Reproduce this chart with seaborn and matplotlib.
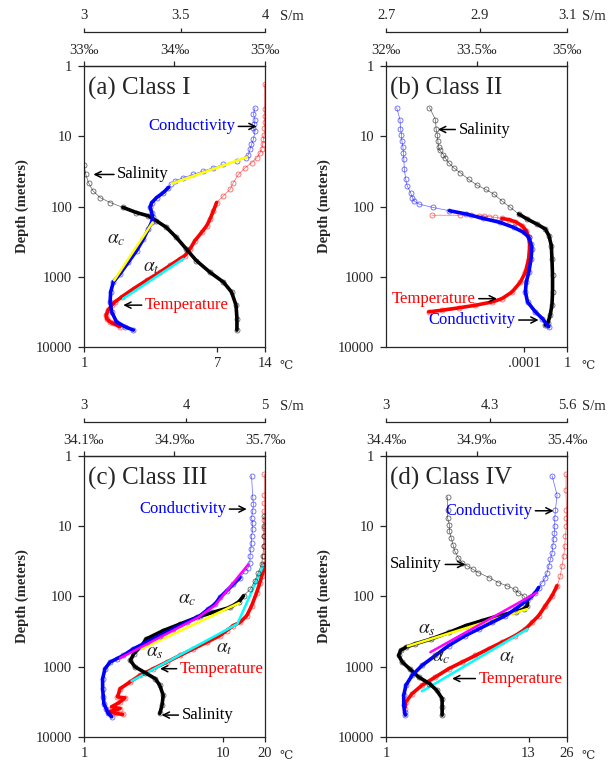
import numpy as np
import matplotlib
matplotlib.use("Agg")
import matplotlib.pyplot as plt
from matplotlib.ticker import NullLocator, FixedLocator
import seaborn as sns

# ---------------- data ----------------
# depth in metres, salinity in per mil, conductivity in S/m, temperature in deg C

# (a) Class I
A_SAL_DEPTH = [26, 35, 46, 60, 75, 88, 103, 122, 136, 160, 198, 275, 402, 587, 859, 1190, 1648, 2545, 3929, 5750]
A_SAL = [33.0, 33.02, 33.05, 33.10, 33.18, 33.29, 33.43, 33.58, 33.71, 33.80, 33.91, 34.02, 34.13, 34.24, 34.39,
         34.54, 34.63, 34.68, 34.69, 34.69]
A_CON_DEPTH = [3.9, 4.9, 5.8, 6.8, 7.6, 8.5, 11.1, 13.1, 15.4, 18.2, 20.3, 22.6, 25.2, 28.1, 31.3, 34.9, 38.9, 43.4,
               48.3, 53.8, 63.4, 74.6, 88, 103, 122, 143, 168, 209, 290, 424, 620, 907, 1190, 1648, 2282, 3162, 4383,
               5155, 5750]
A_CON = [3.937, 3.927, 3.937, 3.933, 3.927, 3.937, 3.927, 3.915, 3.906, 3.896, 3.881, 3.823, 3.744, 3.685, 3.626,
         3.569, 3.513, 3.467, 3.443, 3.431, 3.403, 3.367, 3.341, 3.332, 3.341, 3.346, 3.341, 3.323, 3.297, 3.262,
         3.219, 3.177, 3.143, 3.130, 3.127, 3.135, 3.159, 3.203, 3.245]
A_TEMP_DEPTH = [1.8, 4.1, 5.2, 6.3, 7.6, 9.5, 11.1, 13.1, 15.4, 17.2, 20.3, 23.9, 28.1, 34.9, 45.7, 56.9, 70.6, 87.8,
                115, 151, 188, 233, 306, 402, 499, 556, 691, 859, 1127, 1479, 1940, 2282, 2545, 2995, 3525, 3929,
                4383, 4625, 5155]
A_TEMP = [13.9, 13.9, 13.9, 13.9, 13.85, 13.85, 13.67, 13.53, 13.35, 13.0, 12.4, 11.5, 10.47, 9.50, 8.82, 8.41, 7.63,
          6.92, 6.60, 6.28, 5.98, 5.56, 5.04, 4.69, 4.36, 4.05, 3.50, 3.03, 2.49, 2.06, 1.73, 1.57, 1.50, 1.42, 1.38,
          1.39, 1.46, 1.53, 1.69]
A_FIT_C1_DEPTH, A_FIT_C1 = [19.8, 47.3], [3.886, 3.449]
A_FIT_C2_DEPTH, A_FIT_C2 = [168, 1127], [3.346, 3.147]
A_FIT_T_DEPTH, A_FIT_T = [556, 2048], [4.26, 1.77]

# (b) Class II  (temperature axis is logarithmic, values kept as log10)
B_SAL_DEPTH = [3.9, 5.8, 7.8, 9.5, 11.8, 14.2, 15.8, 18.2, 20.3, 23.9, 28.1, 33.0, 41.1, 49.9, 57, 66.9, 83.1, 103,
               128, 151, 178, 209, 260, 360, 556, 958, 1648, 2545, 3525, 4625, 4883]
B_SAL = [32.72, 32.82, 32.83, 32.85, 32.86, 32.87, 32.89, 32.95, 32.98, 33.04, 33.12, 33.23, 33.37, 33.51, 33.65,
         33.79, 33.92, 34.06, 34.20, 34.34, 34.50, 34.64, 34.70, 34.74, 34.75, 34.76, 34.76, 34.75, 34.72, 34.68,
         34.64]
B_CON_DEPTH = [3.9, 5.8, 7.8, 9.5, 11.8, 14.2, 17.2, 21.4, 29.6, 41.1, 51, 63.4, 74.6, 83, 92.7, 103, 115, 128, 148,
               168, 198, 233, 275, 341, 402, 556, 859, 1190, 1648, 2282, 3162, 3929, 4883, 5155]
B_CON = [2.722, 2.729, 2.730, 2.732, 2.733, 2.735, 2.736, 2.737, 2.738, 2.741, 2.744, 2.751, 2.755, 2.758, 2.769,
         2.798, 2.834, 2.871, 2.908, 2.945, 2.976, 2.999, 3.011, 3.016, 3.018, 3.016, 3.011, 3.005, 3.003, 3.008,
         3.026, 3.042, 3.054, 3.057]
B_TEMP_DEPTH = [133, 133, 133, 136, 136, 139, 143, 148, 154, 165, 188, 221, 275, 360, 556, 859, 1190, 1648, 2048,
                2282, 2545, 2774, 2995, 3162]
B_TEMP_LOG10 = [-12.56, -9.92, -8.91, -8.22, -7.75, -7.29, -6.67, -6.05, -5.42, -4.80, -4.19, -3.79, -3.57, -3.47,
                -3.57, -3.87, -4.34, -5.12, -6.05, -6.97, -8.52, -10.09, -11.64, -12.87]

# (c) Class III
C_SAL_DEPTH = [7.2, 10, 13.9, 19.2, 26.6, 34.9, 45.7, 60, 78.7, 97.9, 119, 143, 168, 198, 246, 306, 402, 499, 655,
               813, 1000, 1216, 1479, 1836, 2545, 3525, 4625]
C_SAL = [35.69, 35.69, 35.69, 35.69, 35.68, 35.67, 35.64, 35.61, 35.57, 35.51, 35.47, 35.39, 35.24, 35.10, 34.95,
         34.80, 34.65, 34.61, 34.54, 34.51, 34.55, 34.64, 34.73, 34.77, 34.80, 34.79, 34.77]
C_CON_DEPTH = [1.9, 3.8, 4.9, 6.1, 7.6, 9.0, 11.1, 13.9, 17.2, 21.4, 26.6, 33.0, 38.9, 43.4, 53.8, 66.9, 83.1, 103,
               128, 151, 188, 233, 290, 360, 448, 556, 691, 771, 859, 1067, 1479, 2048, 2686, 3340, 3929, 4625, 5155]
C_CON = [4.814, 4.829, 4.839, 4.829, 4.814, 4.829, 4.829, 4.814, 4.814, 4.802, 4.792, 4.792, 4.770, 4.726, 4.660,
         4.572, 4.487, 4.403, 4.343, 4.261, 4.162, 4.008, 3.861, 3.718, 3.580, 3.449, 3.352, 3.289, 3.229, 3.183,
         3.162, 3.162, 3.168, 3.173, 3.193, 3.212, 3.244]
C_TEMP_DEPTH = [1.8, 3.6, 4.7, 6.1, 8.1, 10.6, 13.9, 19.2, 26.6, 34.9, 43.4, 51, 63.4, 87.8, 136, 188, 233, 260, 306,
                360, 448, 556, 691, 859, 1067, 1327, 1648, 2048, 2686, 2774, 3162, 3723, 3929, 4383, 4625, 4775]
C_TEMP = [19.8, 19.8, 19.8, 19.8, 19.8, 19.8, 19.8, 19.8, 19.8, 19.8, 19.47, 18.95, 18.39, 17.43, 16.02, 14.78,
          13.23, 11.84, 10.60, 9.49, 7.62, 6.11, 4.89, 3.93, 3.15, 2.52, 2.14, 1.82, 1.74, 1.97, 1.82, 1.58, 1.82,
          1.52, 1.71, 1.90]
C_FIT_C_DEPTH, C_FIT_C = [34.9, 133, 198, 754], [4.770, 4.343, 4.143, 3.321]
C_FIT_S_DEPTH, C_FIT_S = [124, 556], [35.47, 34.61]
C_FIT_T_DEPTH, C_FIT_T = [36, 246, 1596], [19.47, 12.65, 2.20]

# (d) Class IV
D_SAL_DEPTH = [3.8, 5.8, 7.6, 9.5, 11.8, 14.6, 18.2, 22.6, 28.1, 33.0, 36.8, 41.1, 45.7, 53.8, 63.4, 70.6, 78.7,
               87.8, 97.9, 115, 136, 151, 165, 188, 221, 260, 323, 402, 473, 527, 587, 691, 859, 1067, 1400, 1740,
               2162, 2838, 3723, 4883]
D_SAL = [34.74, 34.74, 34.74, 34.75, 34.75, 34.76, 34.77, 34.78, 34.80, 34.82, 34.85, 34.88, 34.91, 34.97, 35.02,
         35.07, 35.11, 35.13, 35.16, 35.18, 35.18, 35.16, 35.12, 35.02, 34.93, 34.84, 34.75, 34.65, 34.56, 34.51,
         34.48, 34.47, 34.49, 34.53, 34.58, 34.64, 34.68, 34.71, 34.71, 34.71]
D_CON_DEPTH = [1.9, 3.6, 5.8, 7.6, 10, 12.4, 15.4, 19.2, 23.9, 29.6, 36.8, 45.7, 53.8, 63.4, 74.6, 87.8, 103, 122,
               151, 188, 233, 290, 360, 499, 691, 958, 1327, 1836, 2545, 3525, 4383, 4883]
D_CON = [5.318, 5.411, 5.381, 5.368, 5.368, 5.361, 5.347, 5.331, 5.318, 5.288, 5.258, 5.229, 5.196, 5.138, 5.078,
         5.021, 4.934, 4.824, 4.688, 4.526, 4.325, 4.130, 3.943, 3.723, 3.557, 3.397, 3.282, 3.213, 3.189, 3.189,
         3.198, 3.207]
D_TEMP_DEPTH = [1.8, 3.0, 5.8, 7.6, 10, 13.9, 19.2, 26.6, 36.8, 51, 70.6, 97.9, 136, 188, 233, 290, 360, 448, 556,
                691, 859, 1067, 1400, 1836, 2410, 3162, 3929]
D_TEMP = [25.6, 25.5, 25.7, 25.7, 25.7, 25.25, 24.93, 24.51, 23.73, 23.04, 21.73, 19.84, 17.58, 15.58, 13.86, 12.29,
          10.27, 8.07, 6.34, 5.00, 3.93, 3.09, 2.43, 1.91, 1.60, 1.43, 1.40]
D_FIT_S_DEPTH, D_FIT_S = [151, 510], [35.18, 34.52]
D_FIT_C_DEPTH, D_FIT_C = [87.8, 620], [5.049, 3.496]
D_FIT_T_DEPTH, D_FIT_T = [290, 2233], [12.82, 1.91]

DEPTH_TICKS = [1, 10, 100, 1000, 10000]

# ---------------- styling ----------------
sns.set_style("ticks")
plt.rcParams["font.family"] = ["Liberation Serif", "DejaVu Serif", "DejaVu Sans"]
plt.rcParams["mathtext.fontset"] = "stix"
plt.rcParams["axes.linewidth"] = 0.9

RED, BLUE, BLACK = "#ff0000", "#0000ff", "black"
YELLOW, CYAN, MAGENTA = "#ffff00", "#00ffff", "#ff00ff"
TICK_FS = 10.5

# split = depth below which the sampled profile looks like a solid thick line
panels = [
    dict(rect=[0.1368, 0.5446, 0.2948, 0.3688], title="(a) Class I",
         t_lim=(1, 14), t_ticks=[1, 7, 14], t_labels=["1", "7", "14"],
         s_lim=(33, 35), s_ticks=[33, 34, 35], s_labels=["33‰", "34‰", "35‰"],
         c_lim=(3, 4), c_ticks=[3, 3.5, 4], c_labels=["3", "3.5", "4"],
         sal=(A_SAL, A_SAL_DEPTH, 120), con=(A_CON, A_CON_DEPTH, 60), temp=(A_TEMP, A_TEMP_DEPTH, 100),
         fits=[("c", A_FIT_C1, A_FIT_C1_DEPTH, YELLOW), ("c", A_FIT_C2, A_FIT_C2_DEPTH, YELLOW),
               ("t", A_FIT_T, A_FIT_T_DEPTH, CYAN)],
         notes=[("Conductivity", BLUE, 0.834, 0.954, 0.785, "right"),
                ("Salinity", BLACK, 0.184, 0.052, 0.614, "left"),
                ("Temperature", RED, 0.337, 0.217, 0.149, "left")],
         alphas=[(r"$\alpha_c$", 0.177, 0.384), (r"$\alpha_t$", 0.374, 0.284)]),
    dict(rect=[0.6287, 0.5446, 0.2948, 0.3688], title="(b) Class II",
         t_lim=(10 ** -16.84, 1), t_ticks=[1e-4, 1], t_labels=[".0001", "1"],
         s_lim=(32, 35), s_ticks=[32, 33.5, 35], s_labels=["32‰", "33.5‰", "35‰"],
         c_lim=(2.7, 3.1), c_ticks=[2.7, 2.9, 3.1], c_labels=["2.7", "2.9", "3.1"],
         sal=(B_SAL, B_SAL_DEPTH, 150), con=(B_CON, B_CON_DEPTH, 120),
         temp=(list(10 ** np.array(B_TEMP_LOG10)), B_TEMP_DEPTH, 150),
         fits=[],
         notes=[("Salinity", BLACK, 0.401, 0.287, 0.774, "left"),
                ("Temperature", RED, 0.494, 0.613, 0.172, "right"),
                ("Conductivity", BLUE, 0.715, 0.843, 0.096, "right")],
         alphas=[]),
    dict(rect=[0.1368, 0.0328, 0.2948, 0.3688], title="(c) Class III",
         t_lim=(1, 20), t_ticks=[1, 10, 20], t_labels=["1", "10", "20"],
         s_lim=(34.1, 35.7), s_ticks=[34.1, 34.9, 35.7], s_labels=["34.1‰", "34.9‰", "35.7‰"],
         c_lim=(3, 5), c_ticks=[3, 4, 5], c_labels=["3", "4", "5"],
         sal=(C_SAL, C_SAL_DEPTH, 100), con=(C_CON, C_CON_DEPTH, 60), temp=(C_TEMP, C_TEMP_DEPTH, 40),
         fits=[("c", C_FIT_C, C_FIT_C_DEPTH, MAGENTA), ("s", C_FIT_S, C_FIT_S_DEPTH, YELLOW),
               ("t", C_FIT_T, C_FIT_T_DEPTH, CYAN)],
         notes=[("Conductivity", BLUE, 0.785, 0.899, 0.811, "right"),
                ("Temperature", RED, 0.530, 0.420, 0.243, "left"),
                ("Salinity", BLACK, 0.540, 0.429, 0.078, "left")],
         alphas=[(r"$\alpha_c$", 0.571, 0.491), (r"$\alpha_s$", 0.392, 0.302), (r"$\alpha_t$", 0.773, 0.314)]),
    dict(rect=[0.6287, 0.0328, 0.2948, 0.3688], title="(d) Class IV",
         t_lim=(1, 26), t_ticks=[1, 13, 26], t_labels=["1", "13", "26"],
         s_lim=(34.4, 35.4), s_ticks=[34.4, 34.9, 35.4], s_labels=["34.4‰", "34.9‰", "35.4‰"],
         c_lim=(3, 5.6), c_ticks=[3, 4.3, 5.6], c_labels=["3", "4.3", "5.6"],
         sal=(D_SAL, D_SAL_DEPTH, 120), con=(D_CON, D_CON_DEPTH, 80), temp=(D_TEMP, D_TEMP_DEPTH, 90),
         fits=[("s", D_FIT_S, D_FIT_S_DEPTH, YELLOW), ("c", D_FIT_C, D_FIT_C_DEPTH, MAGENTA),
               ("t", D_FIT_T, D_FIT_T_DEPTH, CYAN)],
         notes=[("Conductivity", BLUE, 0.807, 0.926, 0.805, "right"),
                ("Salinity", BLACK, 0.309, 0.438, 0.614, "right"),
                ("Temperature", RED, 0.512, 0.365, 0.208, "left")],
         alphas=[(r"$\alpha_s$", 0.227, 0.384), (r"$\alpha_c$", 0.306, 0.284), (r"$\alpha_t$", 0.669, 0.284)]),
]


def profile(ax, x, y, split, color):
    x, y = np.asarray(x, float), np.asarray(y, float)
    # sparse upper samples: open circles on a hairline
    sns.lineplot(x=x, y=y, ax=ax, sort=False, estimator=None, color=color, lw=0.5, alpha=0.6,
                 marker="o", markersize=3.6, markerfacecolor="none",
                 markeredgecolor=color, markeredgewidth=0.6)
    # dense deeper samples merge into a thick line
    deep = y >= split
    first = max(int(np.argmax(deep)) - 1, 0)
    sns.lineplot(x=x[first:], y=y[first:], ax=ax, sort=False, estimator=None, color=color, lw=2.6)


fig = plt.figure(figsize=(6.14, 7.62), dpi=100)

for p in panels:
    ax = fig.add_axes(p["rect"])
    ax.set_xscale("log")
    ax.set_yscale("log")
    axs = ax.twiny()
    axc = ax.twiny()
    axc.set_xscale("log")

    profile(axs, *p["sal"], BLACK)
    profile(axc, *p["con"], BLUE)
    profile(ax, *p["temp"], RED)
    target = {"s": axs, "c": axc, "t": ax}
    for kind, xs, ys, col in p["fits"]:
        sns.lineplot(x=xs, y=ys, ax=target[kind], sort=False, estimator=None, color=col, lw=1.8)

    ax.set_ylim(10000, 1)
    ax.set_xlim(*p["t_lim"])
    axs.set_xlim(*p["s_lim"])
    axc.set_xlim(*p["c_lim"])

    # depth axis
    ax.yaxis.set_major_locator(FixedLocator(DEPTH_TICKS))
    ax.yaxis.set_minor_locator(NullLocator())
    ax.set_yticklabels([str(d) for d in DEPTH_TICKS])
    ax.set_ylabel("Depth (meters)", fontsize=10.5, fontweight="bold", labelpad=5)
    ax.tick_params(axis="y", direction="out", length=4.5, width=0.9, pad=4, labelsize=TICK_FS)

    # temperature (bottom)
    ax.xaxis.set_major_locator(FixedLocator(p["t_ticks"]))
    ax.xaxis.set_minor_locator(NullLocator())
    ax.set_xticklabels(p["t_labels"])
    ax.tick_params(axis="x", direction="out", length=3.5, width=0.9, pad=4, labelsize=TICK_FS)
    ax.set_xlabel("")
    ax.text(1.08, -0.066, "℃", transform=ax.transAxes, fontsize=8.5, va="center", ha="left")

    # salinity (top of box)
    axs.xaxis.set_major_locator(FixedLocator(p["s_ticks"]))
    axs.xaxis.set_minor_locator(NullLocator())
    axs.set_xticklabels(p["s_labels"])
    axs.tick_params(axis="x", direction="out", length=3.5, width=0.9, pad=3, labelsize=TICK_FS)
    axs.set_xlabel("")
    axs.set_ylabel("")

    # conductivity (detached line above)
    for side in ["left", "right", "bottom"]:
        axc.spines[side].set_visible(False)
        axs.spines[side].set_visible(False)
    axc.spines["top"].set_position(("outward", 24.5))
    axc.xaxis.set_major_locator(FixedLocator(p["c_ticks"]))
    axc.xaxis.set_minor_locator(NullLocator())
    axc.set_xticklabels(p["c_labels"])
    axc.tick_params(axis="x", direction="out", length=3, width=0.9, pad=4, labelsize=TICK_FS)
    axc.set_xlabel("")
    axc.set_ylabel("")
    axc.text(1.083, 1.176, "S/m", transform=ax.transAxes, fontsize=TICK_FS, va="center", ha="left")

    ax.text(0.024, 0.921, p["title"], transform=ax.transAxes, fontsize=18, va="center", ha="left")

    for label, col, tx, hx, y, ha in p["notes"]:
        axc.annotate(label, xy=(hx, y), xycoords="axes fraction", xytext=(tx, y),
                     textcoords="axes fraction", ha=ha, va="center", color=col, fontsize=12,
                     arrowprops=dict(arrowstyle="->", color="black", lw=1.1, shrinkA=0, shrinkB=0,
                                     mutation_scale=11))
    for label, x, y in p["alphas"]:
        axc.text(x, y, label, transform=ax.transAxes, fontsize=14, ha="center", va="center")

fig.savefig("out.png", dpi=100, facecolor="white")
